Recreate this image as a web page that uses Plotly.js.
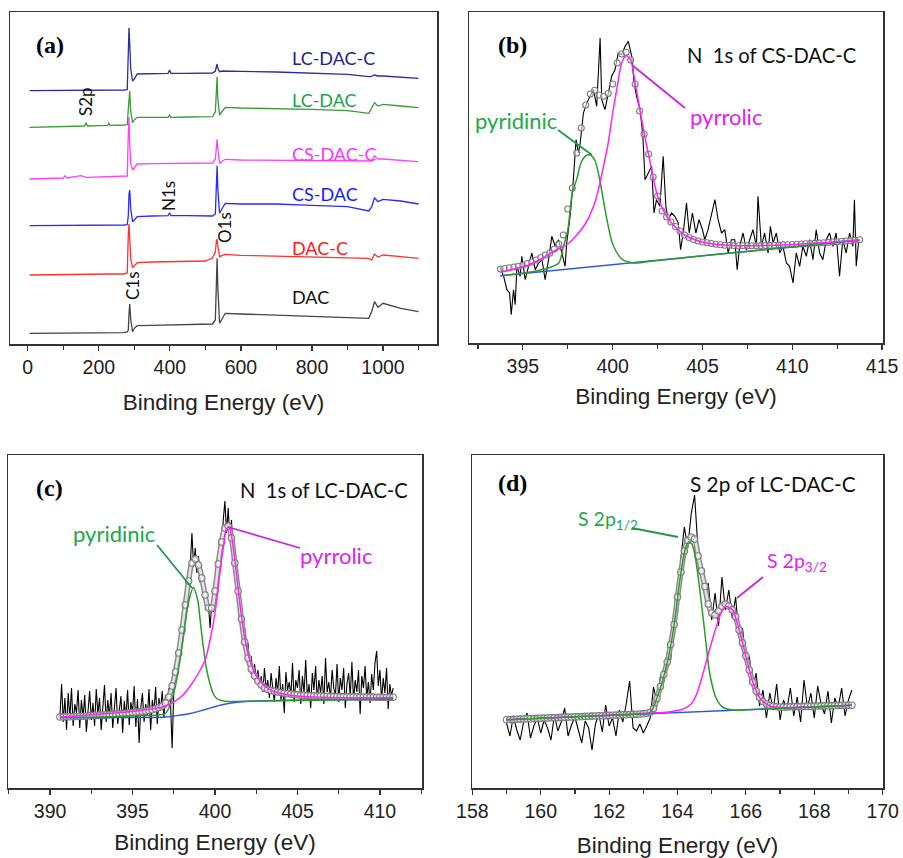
<!DOCTYPE html>
<html>
<head>
<meta charset="utf-8">
<script src="https://cdn.plot.ly/plotly-3.0.1.min.js"></script>
<style>html,body{margin:0;padding:0;background:#fff;}#chart{width:903px;height:858px;}</style>
</head>
<body>
<div id="chart"></div>
<script>
// ---------- Panel (a): survey spectra ----------
const aX = [5,50,100,105,110,150,160,164,168,200,225,228,232,270,280,283,285,287,290,295,300,308,350,395,399,403,450,500,520,528,531,533,535,540,548,556,600,700,800,900,960,968,976,986,1000,1050,1100];
const aDAC = [10.7,10.7,11,11,11,11,11,11,11,11,11.3,11.3,11.3,11.3,12,14,30,40,24,12.3,15.7,18.3,18.7,19,19,19,19,20,20,24,77,85.7,57,20.7,25.7,30.7,30,29,28,26.7,25.7,32.3,42.3,36.7,40.7,35.7,32.3];
const aDACC = [69,69.3,69.3,69.3,69.3,69.7,69.7,69.7,69.7,69.7,70,70,70,70,71,110,120,105,85,76.3,78,81.3,82,82.3,82.3,82.3,82.3,83,86,92,103,104.7,98,87.3,88.7,89.7,88.7,88,87.3,86.3,85.7,84,90,87,89,87.3,85.7];
const aCSDAC = [118.3,118.3,118.3,118.3,118.3,118.7,118.7,118.7,118.7,118.7,119,119,119,119,119.3,128,150,154,135,122.3,124,127.3,128,128.3,131.3,128.3,128.3,128.3,128,130,165,178.3,155,130.7,136,140.7,140,140,138.7,137.3,133,137,146.3,142.3,144.7,143,140];
const aCSDACC = [165,165.3,166,168.3,166,168.3,166.7,166.7,166.7,167,167,167,167,167.3,168,210,227,200,180,174,176,180,180.3,180.3,180.7,180.3,180.3,180.3,181,185,200,204.7,195,180.7,183,184.7,184,183.7,183.3,183,182.3,183,188.3,185,185,184,182.3];
const aLCDAC = [216.7,217,217.3,217.3,217.3,217.7,218,221.3,218,218.3,218.7,220.7,218.7,219,219.3,235,250,253,232,221.3,224,226.7,226.7,226.7,229,226.7,227,227,227.3,232,260,267.3,245,229,233,236.7,236,235.7,234.7,233.3,230.7,236,241.3,238,239.7,238,236.3];
const aLCDACC = [253.3,253.3,253.7,253.7,253.7,253.7,253.7,253.7,253.7,254,254,254,254,254,254.3,290,316.3,300,275,263,265,270,270.3,270.7,274,270.7,270.7,270.7,271,273,278,280,276,272.3,273,273,272.7,272,270.7,269.7,267.3,267.7,269,268,268,267,265.7];
const aNames = ['DAC','DAC-C','CS-DAC','CS-DAC-C','LC-DAC','LC-DAC-C'];

// ---------- Panel (b): N 1s of CS-DAC-C ----------
const bX = [393.70,393.93,394.11,394.26,394.35,394.48,394.57,394.67,394.85,394.94,
395.13,395.31,395.50,395.69,395.87,396.06,396.24,396.43,396.61,396.80,
396.98,397.17,397.35,397.44,397.63,397.81,397.96,398.09,398.19,398.37,
398.56,398.74,398.93,399.11,399.30,399.39,399.57,399.76,399.94,400.13,
400.31,400.50,400.69,400.87,401.06,401.19,401.33,401.52,401.67,401.80,
401.98,402.17,402.30,402.44,402.63,402.81,402.96,403.09,403.28,403.46,
403.65,403.78,403.93,404.11,404.26,404.44,404.63,404.81,405.00,405.13,
405.31,405.50,405.69,405.87,406.06,406.24,406.43,406.61,406.80,406.93,
407.07,407.26,407.44,407.63,407.81,408.00,408.09,408.28,408.46,408.65,
408.78,408.93,409.11,409.30,409.48,409.67,409.85,410.04,410.22,410.41,
410.59,410.78,410.96,411.15,411.33,411.52,411.70,411.89,412.07,412.26,
412.44,412.63,412.81,413.00,413.19,413.37,413.46,413.56,413.70];
const bRaw = [76.7,66.7,53.3,50,28.3,53.3,38.3,76.7,66.7,86.7,
63.3,76.7,90,73.3,80,83.3,63.3,83.3,106.7,96.7,
103.3,90,76.7,100,126.7,163.3,203.3,190,200,230,
240,246.7,253.3,236.7,305,243.3,233.3,250,266.7,273.3,
290,288.3,296.7,301.7,286.7,260,246.7,233.3,210,163.3,
170,176.7,130,143.3,136.7,186.7,136.7,123.3,130,126.7,
120,93.3,110,140,110,130,110,123.3,113.3,103.3,
113.3,130,143.3,123.3,110,113.3,90,103.3,103.3,73.3,
96.7,110,93.3,103.3,113.3,96.7,146.7,96.7,110,90,
116.7,100,110,90,96.7,80,76.7,60,90,76.7,
96.7,86.7,103.3,83.3,113.3,90,83.3,103.3,110,96.7,
110,66.7,103.3,90,110,96.7,143.3,76.7,103.3];
const bFitX = [393.75,394.0,394.25,394.5,394.75,395.0,395.25,395.5,395.75,396.0,
396.25,396.5,396.75,397.0,397.25,397.5,397.75,398.0,398.25,398.5,
398.75,399.0,399.25,399.5,399.75,400.0,400.25,400.5,400.75,401.0,
401.25,401.5,401.75,402.0,402.25,402.5,402.75,403.0,403.25,403.5,
403.75,404.0,404.25,404.5,404.75,405.0,405.25,405.5,405.75,406.0,
406.25,406.5,406.75,407.0,407.25,407.5,407.75,408.0,408.25,408.5,
408.75,409.0,409.25,409.5,409.75,410.0,410.25,410.5,410.75,411.0,
411.25,411.5,411.75,412.0,412.25,412.5,412.75,413.0,413.25,413.5,413.75];
const bEnvelope = [74,74.5,75.2,76,76.8,78,79.5,81,83,85.5,
88,90,94,99,108,134,155,190,215,238,
249,252.7,248,246.7,249.5,259,280,289,290.7,283,
259,232,209,189,166,147,132,126,121,116.5,
112,108,105.5,103.5,102,101,100.2,99.5,98.8,98.2,
97.8,97.6,97.4,97.3,97.3,97.3,97.3,97.3,97.4,97.5,
97.6,97.7,97.9,98.1,98.3,98.5,98.7,99,99.2,99.5,
99.7,100,100.3,100.6,101,101.3,101.7,102,102.4,102.8,103.3];
const bPydX = [393.75,394.5,395.25,396,396.5,397,397.25,397.5,397.75,398,398.25,398.5,398.75,399,399.25,399.5,399.75,400,400.5,401,401.25,402,404,406,408,410,412,413.75];
const bPyridinic = [67.3,68.7,70.5,73,75.5,80,96,113,150,164,181,187,188,183,166,141,117,99,84,80.5,80,81.5,85.3,89,92.6,96.2,100,102.7];
const bPyrX = [393.75,394.5,395.25,396,396.75,397.5,398,398.5,399,399.25,399.5,399.75,400,400.25,400.5,400.75,401,401.25,401.5,401.75,402,402.5,403,403.5,404,405,406,407,408,409,410,411,412,413,413.75];
const bPyrrolic = [70.7,74,77.5,84,92,99,108,120,140,157,178,200,230,256,280,287.3,283,260,235,210,188,147,126.7,116,108,101,98.2,97.3,97.3,97.7,98.5,99.5,100.6,102,103.3];
const bBaseX = [393.75,413.75];
const bBaseline = [67.3,102.7];

// ---------- Panel (c): N 1s of LC-DAC-C ----------
const cX = [390.6,390.7,390.8,390.9,391.0,391.1,391.2,391.3,391.4,391.5,
391.6,391.7,391.8,391.9,392.0,392.1,392.2,392.3,392.4,392.5,
392.6,392.7,392.8,392.9,393.0,393.1,393.2,393.3,393.4,393.5,
393.6,393.7,393.8,393.9,394.0,394.1,394.2,394.3,394.4,394.5,
394.6,394.7,394.8,394.9,395.0,395.1,395.2,395.3,395.4,395.5,
395.6,395.7,395.8,395.9,396.0,396.1,396.2,396.3,396.4,396.5,
396.6,396.7,396.8,396.9,397.0,397.1,397.2,397.3,397.4,397.5,
397.6,397.7,397.8,397.9,398.0,398.1,398.2,398.3,398.4,398.5,
398.6,398.7,398.8,398.9,399.0,399.1,399.2,399.3,399.4,399.5,
399.6,399.7,399.8,399.9,400.0,400.1,400.2,400.3,400.4,400.5,
400.6,400.7,400.8,400.9,401.0,401.1,401.2,401.3,401.4,401.5,
401.6,401.7,401.8,401.9,402.0,402.1,402.2,402.3,402.4,402.5,
402.6,402.7,402.8,402.9,403.0,403.1,403.2,403.3,403.4,403.5,
403.6,403.7,403.8,403.9,404.0,404.1,404.2,404.3,404.4,404.5,
404.6,404.7,404.8,404.9,405.0,405.1,405.2,405.3,405.4,405.5,
405.6,405.7,405.8,405.9,406.0,406.1,406.2,406.3,406.4,406.5,
406.6,406.7,406.8,406.9,407.0,407.1,407.2,407.3,407.4,407.5,
407.6,407.7,407.8,407.9,408.0,408.1,408.2,408.3,408.4,408.5,
408.6,408.7,408.8,408.9,409.0,409.1,409.2,409.3,409.4,409.5,
409.6,409.7,409.8,409.9,410.0,410.1,410.2,410.3,410.4,410.5,
410.6,410.7,410.8];
const cRaw = [72,104,66,90,58,95,70,100,62,84,
75,98,60,88,70,93,56,80,97,68,
85,62,99,74,90,58,82,103,66,88,
72,95,60,84,100,64,78,92,55,87,
70,98,63,86,75,102,61,89,45,80,
95,66,84,72,99,58,88,76,101,64,
90,78,97,70,93,82,100,86,40,96,
112,130,128,150,162,168,190,198,215,222,
255,222,240,215,232,205,218,192,200,178,
185,160,184,176,205,204,232,240,238,268,
287,255,280,250,268,230,240,205,210,175,
180,150,160,132,145,120,132,110,124,106,
118,102,112,96,120,98,108,90,115,100,
86,110,95,122,88,104,75,116,98,106,
92,125,86,108,100,118,84,112,95,128,
90,104,80,115,98,122,87,108,95,112,
84,130,96,106,89,118,100,92,124,86,
110,98,120,80,104,115,92,126,88,108,
96,118,74,112,100,122,90,106,85,114,
98,125,137,102,118,88,110,95,120,79,
104,92,100];
const cFitX = [390.6,390.8,391.0,391.2,391.4,391.6,391.8,392.0,392.2,392.4,
392.6,392.8,393.0,393.2,393.4,393.6,393.8,394.0,394.2,394.4,
394.6,394.8,395.0,395.2,395.4,395.6,395.8,396.0,396.2,396.4,
396.6,396.8,397.0,397.2,397.4,397.6,397.8,398.0,398.2,398.4,
398.6,398.8,399.0,399.2,399.4,399.6,399.8,400.0,400.2,400.4,
400.6,400.8,401.0,401.2,401.4,401.6,401.8,402.0,402.2,402.4,
402.6,402.8,403.0,403.2,403.4,403.6,403.8,404.0,404.2,404.4,
404.6,404.8,405.0,405.2,405.4,405.6,405.8,406.0,406.2,406.4,
406.6,406.8,407.0,407.2,407.4,407.6,407.8,408.0,408.2,408.4,
408.6,408.8,409.0,409.2,409.4,409.6,409.8,410.0,410.2,410.4,
410.6,410.8];
const cEnvelope = [71,71.1,71.2,71.3,71.4,71.5,71.7,71.8,72,72.2,
72.4,72.6,72.8,73,73.1,73.3,73.6,73.9,74.2,74.4,
74.8,75.1,75.5,75.8,76.1,76.5,77,77.5,78.3,79.3,
80.5,82,85,91,102,116,135,158,183,207,
225,229,223,210,193,180,180,197,224,246,
260,262,250,225,197,169,146,130,119,112,
107,103,100,98.5,97.5,96.8,96,95.4,94.8,94.3,
93.9,93.5,93.2,92.9,92.7,92.5,92.3,92.2,92.1,92,
91.9,91.8,91.7,91.6,91.5,91.4,91.4,91.3,91.2,91.2,
91.1,91.1,91,91,90.9,90.9,90.8,90.8,90.8,90.7,
90.7,90.7];
const cPydX = [390.6,393,395,396.5,397,397.3,397.6,397.9,398.1,398.4,398.69,398.95,399.1,399.29,399.5,399.7,399.9,400.1,400.5,401,402,404,406,408,410.8];
const cPyridinic = [70.5,71,72,73,74.5,84,102,130,153,186,200.5,188,168,141,118,104,94,89.5,87,86.5,86.8,87.3,87.8,88.3,89];
const cPyrX = [390.6,392,394,395.5,396.5,397,397.5,398,398.5,399,399.4,399.7,400,400.3,400.5,400.7,400.85,401,401.2,401.5,401.8,402.1,402.5,403,403.5,404,405,406,407,409,410.8];
const cPyrrolic = [71,72.5,75,77.5,80,82,86,92,102,115,128,148,175,215,240,259,261,252,228,185,150,128,112,102,97,94.5,92,91,90.5,90.3,90.5];
const cBaseX = [390.6,397,397.5,398.5,399.5,400.5,401.5,403,410.8];
const cBaseline = [70.5,71,72,74.5,79,83.5,86,87.3,89];

// ---------- Panel (d): S 2p of LC-DAC-C ----------
const dX = [159.0,159.1,159.2,159.3,159.4,159.5,159.6,159.7,159.8,159.9,
160.0,160.1,160.2,160.3,160.4,160.5,160.6,160.7,160.8,160.9,
161.0,161.1,161.2,161.3,161.4,161.5,161.6,161.7,161.8,161.9,
162.0,162.1,162.2,162.3,162.4,162.5,162.6,162.7,162.8,162.9,
163.0,163.1,163.2,163.3,163.4,163.5,163.6,163.7,163.8,163.9,
164.0,164.1,164.2,164.3,164.4,164.5,164.6,164.7,164.8,164.9,
165.0,165.1,165.2,165.3,165.4,165.5,165.6,165.7,165.8,165.9,
166.0,166.1,166.2,166.3,166.4,166.5,166.6,166.7,166.8,166.9,
167.0,167.1,167.2,167.3,167.4,167.5,167.6,167.7,167.8,167.9,
168.0,168.1,168.2,168.3,168.4,168.5,168.6,168.7,168.8,168.9,
169.0,169.1];
const dRaw = [65,52,72,58,48,66,75,50,62,70,
55,68,60,48,73,57,66,80,52,63,
71,58,45,67,60,38,64,74,56,83,
62,70,52,78,66,84,107,60,57,64,
55,62,70,101,85,112,106,135,128,170,
182,230,261,240,274,293,238,222,190,205,
168,195,162,211,178,198,170,191,150,160,
128,132,100,115,82,98,70,95,78,104,
68,88,79,100,72,91,66,108,80,95,
70,102,84,74,97,65,90,80,100,72,
88,98];
const dEnvelope = [68.3,68.4,68.6,68.7,68.9,69,69.2,69.3,69.4,69.6,
69.7,69.9,70,70.2,70.3,70.4,70.6,70.7,70.9,71,
71.2,71.3,71.4,71.6,71.7,71.9,72,72.2,72.3,72.4,
72.6,72.7,72.9,73,73.2,73.3,73.5,73.6,73.8,74,
74.3,74.8,75.8,79.5,89.5,101.5,113.5,126,143.5,163.5,
191,216,237,247.5,251,249,232,217,201.5,184,
175,173,177,181.7,184,182,178.3,171.3,158,145,
132,118,106,97,90.5,86.5,84,82.5,81.7,81.2,
81,81,81.1,81.2,81.3,81.4,81.5,81.6,81.7,81.8,
81.9,82,82.1,82.2,82.3,82.4,82.5,82.6,82.7,82.7,
82.8,82.8];
const dS12X = [159.0,160,161,162,162.8,163.2,163.44,163.69,163.88,164.07,164.22,164.32,164.42,164.51,164.66,164.8,164.95,165.14,165.34,165.63,166.5,167.5,168.5,169.1];
const dS12 = [68.3,69.7,71.2,72.6,73.8,75.5,94,124,158,208,238,246,244,233,196,155,113,89,80.5,78,79,80.4,81.8,82.7];
const dS32X = [159.0,161,163.2,163.59,164.17,164.4,164.56,164.75,164.95,165.14,165.3,165.41,165.52,165.63,165.82,166.02,166.21,166.41,166.7,167.09,168,169.1];
const dS32 = [68.3,71.2,75,75.5,79,84,94,115,140,162,177,181.5,180.5,177,156,129,105,90,82,80.5,81.3,82.7];
const dBaseX = [159.0,169.1];
const dBaseline = [68.3,82.7];

// ---------- styles ----------
const TICKFONT = 'Liberation Sans, Arial, sans-serif';
const LABELFONT = 'Lato, Open Sans, sans-serif';
const PANELFONT = 'Liberation Serif, Times New Roman, serif';
const aColors = ['#444444','#ff3030','#2a2aff','#ff40ff','#3a9a3a','#2c2c9c'];
const labelColors = ['#111111','#ff1a1a','#1a1aff','#ff33ff','#1aa34a','#23238f'];
const GREEN = '#2e9a2e', MAGENTA = '#ff22ff', BLUE = '#2b55e6';
const GREENTXT = '#1aaa4a', MAGTXT = '#dd22ee';

const traces = [];
const aSeries = [aDAC, aDACC, aCSDAC, aCSDACC, aLCDAC, aLCDACC];
aSeries.forEach((s, i) => traces.push({x: aX, y: s, type: 'scatter', mode: 'lines', name: aNames[i], line: {color: aColors[i], width: 1.3}, xaxis: 'x', yaxis: 'y'}));

function fitSet(ax, ay, raw, rx, env, ex, base, bx, comps, msize, band) {
  traces.push({x: rx, y: raw, type: 'scatter', mode: 'lines', line: {color: '#000', width: 1.1}, xaxis: ax, yaxis: ay});
  if (band) {
    traces.push({x: ex, y: env, type: 'scatter', mode: 'lines', line: {color: '#8c8c8c', width: 5.5, shape: 'spline'}, xaxis: ax, yaxis: ay});
    traces.push({x: ex, y: env, type: 'scatter', mode: 'lines', line: {color: '#e4e4e4', width: 2.5, shape: 'spline'}, xaxis: ax, yaxis: ay});
  }
  traces.push({x: ex, y: env, type: 'scatter', mode: 'markers', marker: {symbol: 'circle', size: msize, color: 'rgba(255,255,255,0.55)', line: {width: 1.1, color: '#7a7a7a'}}, xaxis: ax, yaxis: ay});
  traces.push({x: bx, y: base, type: 'scatter', mode: 'lines', line: {color: BLUE, width: 1.4, shape: 'spline'}, xaxis: ax, yaxis: ay});
  comps.forEach(c => traces.push({x: c.x, y: c.y, type: 'scatter', mode: 'lines', line: {color: c.color, width: 1.5, shape: 'spline', smoothing: 0.8}, xaxis: ax, yaxis: ay}));
}
fitSet('x2','y2', bRaw, bX, bEnvelope, bFitX, bBaseline, bBaseX, [{x: bPydX, y: bPyridinic, color: GREEN}, {x: bPyrX, y: bPyrrolic, color: MAGENTA}], 6, false);
fitSet('x3','y3', cRaw, cX, cEnvelope, cFitX, cBaseline, cBaseX, [{x: cPydX, y: cPyridinic, color: GREEN}, {x: cPyrX, y: cPyrrolic, color: MAGENTA}], 6.5, true);
fitSet('x4','y4', dRaw, dX, dEnvelope, dX, dBaseline, dBaseX, [{x: dS32X, y: dS32, color: MAGENTA}, {x: dS12X, y: dS12, color: GREEN}], 6.5, true);

const W = 903, H = 858;
const px = v => v / W, py = v => 1 - v / H;
function xAxis(x0, x1, range, dtick, minor, anchor, standoff) {
  return {domain: [px(x0), px(x1)], range: range, anchor: anchor, dtick: dtick, tick0: 0,
    showline: true, mirror: true, linecolor: '#333', linewidth: 1.5, ticks: 'outside', ticklen: 5, tickwidth: 1.2, tickcolor: '#333',
    minor: {dtick: minor, ticks: 'outside', ticklen: 4, tickwidth: 1.2, tickcolor: '#333'},
    showgrid: false, zeroline: false, tickfont: {family: TICKFONT, size: 19.5, color: '#222'},
    title: {text: 'Binding Energy (eV)', font: {family: TICKFONT, size: 22.5, color: '#222'}, standoff: standoff}};
}
function yAxis(y0, y1, range, anchor) {
  return {domain: [py(y1), py(y0)], range: range, anchor: anchor, showline: true, mirror: true, linecolor: '#333', linewidth: 1.5,
    ticks: '', showticklabels: false, showgrid: false, zeroline: false};
}

function txt(x, y, text, opts) {
  return Object.assign({xref: 'paper', yref: 'paper', x: px(x), y: py(y), text: text, showarrow: false,
    xanchor: 'center', yanchor: 'middle', font: {family: LABELFONT, size: 18, color: '#111'}}, opts || {});
}
const annotations = [
  txt(50, 45, '<b>(a)</b>', {font: {family: PANELFONT, size: 24, color: '#000'}}),
  txt(512, 45, '<b>(b)</b>', {font: {family: PANELFONT, size: 24, color: '#000'}}),
  txt(49, 488, '<b>(c)</b>', {font: {family: PANELFONT, size: 24, color: '#000'}}),
  txt(512, 483, '<b>(d)</b>', {font: {family: PANELFONT, size: 24, color: '#000'}}),
  txt(290, 58, 'LC-DAC-C', {xanchor: 'left', font: {family: LABELFONT, size: 18, color: labelColors[5]}}),
  txt(290, 100, 'LC-DAC', {xanchor: 'left', font: {family: LABELFONT, size: 18, color: labelColors[4]}}),
  txt(290, 154, 'CS-DAC-C', {xanchor: 'left', font: {family: LABELFONT, size: 18, color: labelColors[3]}}),
  txt(290, 194, 'CS-DAC', {xanchor: 'left', font: {family: LABELFONT, size: 18, color: labelColors[2]}}),
  txt(290, 248, 'DAC-C', {xanchor: 'left', font: {family: LABELFONT, size: 18, color: labelColors[1]}}),
  txt(290, 297, 'DAC', {xanchor: 'left', font: {family: LABELFONT, size: 18, color: labelColors[0]}}),
  txt(86, 102, 'S2p', {textangle: -90, font: {family: LABELFONT, size: 17, color: '#111'}}),
  txt(168, 196, 'N1s', {textangle: -90, font: {family: LABELFONT, size: 17, color: '#111'}}),
  txt(224, 228, 'O1s', {textangle: -90, font: {family: LABELFONT, size: 17, color: '#111'}}),
  txt(133, 286, 'C1s', {textangle: -90, font: {family: LABELFONT, size: 17, color: '#111'}}),
  txt(772, 55, 'N  1s of CS-DAC-C', {font: {family: LABELFONT, size: 20.2, color: '#111'}}),
  txt(516, 120, 'pyridinic', {font: {family: LABELFONT, size: 22, color: GREENTXT}}),
  txt(726, 117, 'pyrrolic', {font: {family: LABELFONT, size: 22, color: MAGTXT}}),
  txt(324, 490, 'N  1s of LC-DAC-C', {font: {family: LABELFONT, size: 20.2, color: '#111'}}),
  txt(114, 533, 'pyridinic', {font: {family: LABELFONT, size: 22, color: GREENTXT}}),
  txt(336, 555, 'pyrrolic', {font: {family: LABELFONT, size: 22, color: MAGTXT}}),
  txt(773, 483, 'S 2p of LC-DAC-C', {font: {family: LABELFONT, size: 20.8, color: '#111'}}),
  txt(608, 520, 'S 2p<sub>1/2</sub>', {font: {family: LABELFONT, size: 19.5, color: GREENTXT}}),
  txt(797, 562, 'S 2p<sub>3/2</sub>', {font: {family: LABELFONT, size: 19.5, color: MAGTXT}})
];
function seg(x0, y0, x1, y1, color) {
  return {type: 'line', xref: 'paper', yref: 'paper', x0: px(x0), y0: py(y0), x1: px(x1), y1: py(y1), line: {color: color, width: 1.8}};
}
const shapes = [
  seg(558, 130, 592, 155, '#1f9a45'),
  seg(632, 65, 685, 108, '#cc22dd'),
  seg(157, 545, 192, 588, '#1f9a45'),
  seg(228, 527, 300, 548, '#cc22dd'),
  seg(632, 528, 678, 537, '#1f9a45'),
  seg(763, 577, 737, 598, '#cc22dd')
];

const layout = {
  width: W, height: H, margin: {l: 0, r: 0, t: 0, b: 0}, paper_bgcolor: '#fff', plot_bgcolor: '#fff', showlegend: false,
  xaxis: xAxis(10, 437, [-50, 1152], 200, 100, 'y', 17),
  yaxis: yAxis(12, 344, [0, 332], 'x'),
  xaxis2: xAxis(469, 883, [392, 415.05], 5, 2.5, 'y2', 12),
  yaxis2: yAxis(12, 343, [0, 331], 'x2'),
  xaxis3: xAxis(8, 422, [387.45, 412.55], 5, 2.5, 'y3', 13),
  yaxis3: yAxis(455, 788, [0, 333], 'x3'),
  xaxis4: xAxis(472, 883, [157.99, 170.01], 2, 1, 'y4', 20),
  yaxis4: yAxis(455, 788, [0, 333], 'x4'),
  annotations: annotations, shapes: shapes
};
Plotly.newPlot('chart', traces, layout, {displayModeBar: false, staticPlot: true});
</script>
</body>
</html>
